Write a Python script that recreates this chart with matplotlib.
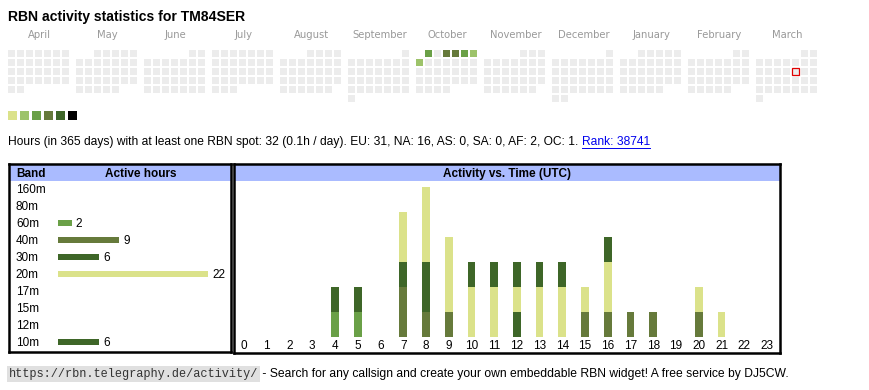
import datetime as dt
import calendar
import matplotlib
matplotlib.use('Agg')
import matplotlib.pyplot as plt
from matplotlib.patches import Rectangle
from matplotlib.lines import Line2D

W, H = 870, 390

callsign = 'TM84SER'
months = ['April', 'May', 'June', 'July', 'August', 'September', 'October',
          'November', 'December', 'January', 'February', 'March']
first_month = (2024, 4)
today = '2025-03-14'

# days with activity and their colour level (index into level_colors)
active_days = ['2024-10-01', '2024-10-03', '2024-10-04', '2024-10-05',
               '2024-10-06', '2024-10-07']
active_levels = [2, 3, 3, 2, 1, 1]
level_colors = ['#dbe28a', '#9dc36a', '#6aa047', '#667a3b', '#3e6628', '#000000']

bands = ['160m', '80m', '60m', '40m', '30m', '20m', '17m', '15m', '12m', '10m']
band_colors = ['#000000', '#3e6628', '#6aa047', '#667a3b', '#3e6628',
               '#dbe28a', '#9dc36a', '#6aa047', '#667a3b', '#3e6628']

hours = list(range(24))
#           0  1  2  3  4  5  6  7  8  9 10 11 12 13 14 15 16 17 18 19 20 21 22 23
h_160m =   [0, 0, 0, 0, 0, 0, 0, 0, 0, 0, 0, 0, 0, 0, 0, 0, 0, 0, 0, 0, 0, 0, 0, 0]
h_80m =    [0, 0, 0, 0, 0, 0, 0, 0, 0, 0, 0, 0, 0, 0, 0, 0, 0, 0, 0, 0, 0, 0, 0, 0]
h_60m =    [0, 0, 0, 0, 1, 1, 0, 0, 0, 0, 0, 0, 0, 0, 0, 0, 0, 0, 0, 0, 0, 0, 0, 0]
h_40m =    [0, 0, 0, 0, 0, 0, 0, 2, 1, 1, 0, 0, 0, 0, 0, 1, 1, 1, 1, 0, 1, 0, 0, 0]
h_30m =    [0, 0, 0, 0, 1, 1, 0, 1, 2, 0, 0, 0, 1, 0, 0, 0, 0, 0, 0, 0, 0, 0, 0, 0]
h_20m =    [0, 0, 0, 0, 0, 0, 0, 2, 3, 3, 2, 2, 1, 2, 2, 1, 2, 0, 0, 0, 1, 1, 0, 0]
h_17m =    [0] * 24
h_15m =    [0] * 24
h_12m =    [0] * 24
h_10m =    [0, 0, 0, 0, 0, 0, 0, 0, 0, 0, 1, 1, 1, 1, 1, 0, 1, 0, 0, 0, 0, 0, 0, 0]
per_band = [h_160m, h_80m, h_60m, h_40m, h_30m, h_20m, h_17m, h_15m, h_12m, h_10m]
band_hours = [sum(v) for v in per_band]

info = ('Hours (in 365 days) with at least one RBN spot: 32 (0.1h / day). '
        'EU: 31, NA: 16, AS: 0, SA: 0, AF: 2, OC: 1. ')
rank = 'Rank: 38741'
url = 'https://rbn.telegraphy.de/activity/'
footer = ' - Search for any callsign and create your own embeddable RBN widget! A free service by DJ5CW.'

SANS = 'Liberation Sans'
HEAD_BG = '#aabbff'
GREY = '#ececec'
FS = 8.5

fig = plt.figure(figsize=(W / 100, H / 100), dpi=100)


def px_axes(x0, y0, x1, y1):
    return fig.add_axes([x0 / W, 1 - y1 / H, (x1 - x0) / W, (y1 - y0) / H])


# title
fig.text(8 / W, 1 - 20.5 / H, 'RBN activity statistics for ' + callsign,
         fontsize=10.05, fontweight='bold', family=SANS, va='baseline')

# ---- calendar ----
cal = px_axes(0, 0, W, 130)
cal.set_xlim(0, W)
cal.set_ylim(130, 0)
cal.axis('off')
levels = dict(zip(active_days, active_levels))
y0, m0 = first_month
for mi, name in enumerate(months):
    y = y0 + (m0 - 1 + mi) // 12
    m = (m0 - 1 + mi) % 12 + 1
    off = dt.date(y, m, 1).weekday()
    ndays = calendar.monthrange(y, m)[1]
    bx = 8 + mi * 68
    cal.text(bx + 31.5, 35, name, ha='center', va='center', fontsize=7.2,
             color='#999999', family='DejaVu Sans')
    for d in range(1, ndays + 1):
        k = off + d - 1
        day = dt.date(y, m, d).isoformat()
        fc = level_colors[levels[day]] if day in levels else GREY
        ec = 'none'
        if day == today:
            ec = '#e00000'
        cal.add_patch(Rectangle((bx + (k % 7) * 9, 49.5 + (k // 7) * 9), 7, 7,
                                facecolor=fc, edgecolor=ec, lw=0.9))
for i, c in enumerate(level_colors):
    cal.add_patch(Rectangle((8 + i * 12, 111.5), 9, 9, facecolor=c, edgecolor='none'))

t_info = fig.text(8 / W, 1 - 142 / H, info, fontsize=8.62, family=SANS, va='center')
fig.canvas.draw()
r = fig.canvas.get_renderer()
bb = t_info.get_window_extent(r)
t_rank = fig.text(bb.x1 / W, 1 - 142 / H, rank, fontsize=8.62, family=SANS,
                  va='center', color='#0000ee')
bb2 = t_rank.get_window_extent(r)
fig.add_artist(Line2D([bb2.x0 / W, bb2.x1 / W], [1 - 148 / H] * 2,
                      color='#0000ee', lw=0.7))

# ---- band table ----
bt = px_axes(9, 164, 231, 352)
bt.set_xlim(-(58 - 9) / 6.82, (231 - 58) / 6.82)
bt.set_ylim(9.59, -1.47)
bt.axhspan(-1.47, -0.47, color=HEAD_BG, lw=0)
yy = range(len(bands))
bt.barh(yy, band_hours, height=0.4, color=band_colors)
for i, (b, v) in enumerate(zip(bands, band_hours)):
    bt.text(0.031, i + 0.05, b, transform=bt.get_yaxis_transform(), va='center',
            fontsize=FS, family=SANS)
    if v:
        bt.text(v + 0.6, i + 0.05, str(v), va='center', fontsize=FS, family=SANS)
bt.text(0.031, -0.88, 'Band', transform=bt.get_yaxis_transform(), va='center',
        fontsize=FS, fontweight='bold', family=SANS)
bt.text(0.595, -0.88, 'Active hours', transform=bt.get_yaxis_transform(),
        va='center', ha='center', fontsize=FS, fontweight='bold', family=SANS)

# ---- activity vs time ----
ta = px_axes(234, 164, 780, 353)
ta.set_xlim(-(244 - 234) / 22.74, (780 - 244) / 22.74)
ta.set_ylim(-(353 - 336.7) / 25, (336.7 - 164) / 25)
ta.axhspan((336.7 - 181) / 25, (336.7 - 164) / 25, color=HEAD_BG, lw=0)
bottom = [0] * 24
for vals, c in zip(per_band, band_colors):
    if sum(vals) == 0:
        continue
    ta.bar(hours, vals, width=0.34, bottom=bottom, color=c, lw=0)
    bottom = [a + b for a, b in zip(bottom, vals)]
for h in hours:
    ta.text(h, -0.38, str(h), ha='center', va='center', fontsize=FS, family=SANS)
ta.text(0.5, (336.7 - 174) / 25, 'Activity vs. Time (UTC)',
        transform=ta.get_yaxis_transform(), ha='center', va='center',
        fontsize=FS, fontweight='bold', family=SANS)

for ax in (bt, ta):
    ax.set_xticks([])
    ax.set_yticks([])
    for s in ax.spines.values():
        s.set_linewidth(1.8)
        s.set_color('black')

# ---- footer ----
t_url = fig.text(9 / W, 1 - 374 / H, url, fontsize=8.6, family='Liberation Mono',
                 va='center', color='#333333',
                 bbox=dict(facecolor='#e0e0e0', edgecolor='none', pad=1.2))
fig.canvas.draw()
bb3 = t_url.get_window_extent(r)
fig.text((bb3.x1 + 1) / W, 1 - 374 / H, footer, fontsize=8.72, family=SANS, va='center')

fig.savefig('out.png', dpi=100)
